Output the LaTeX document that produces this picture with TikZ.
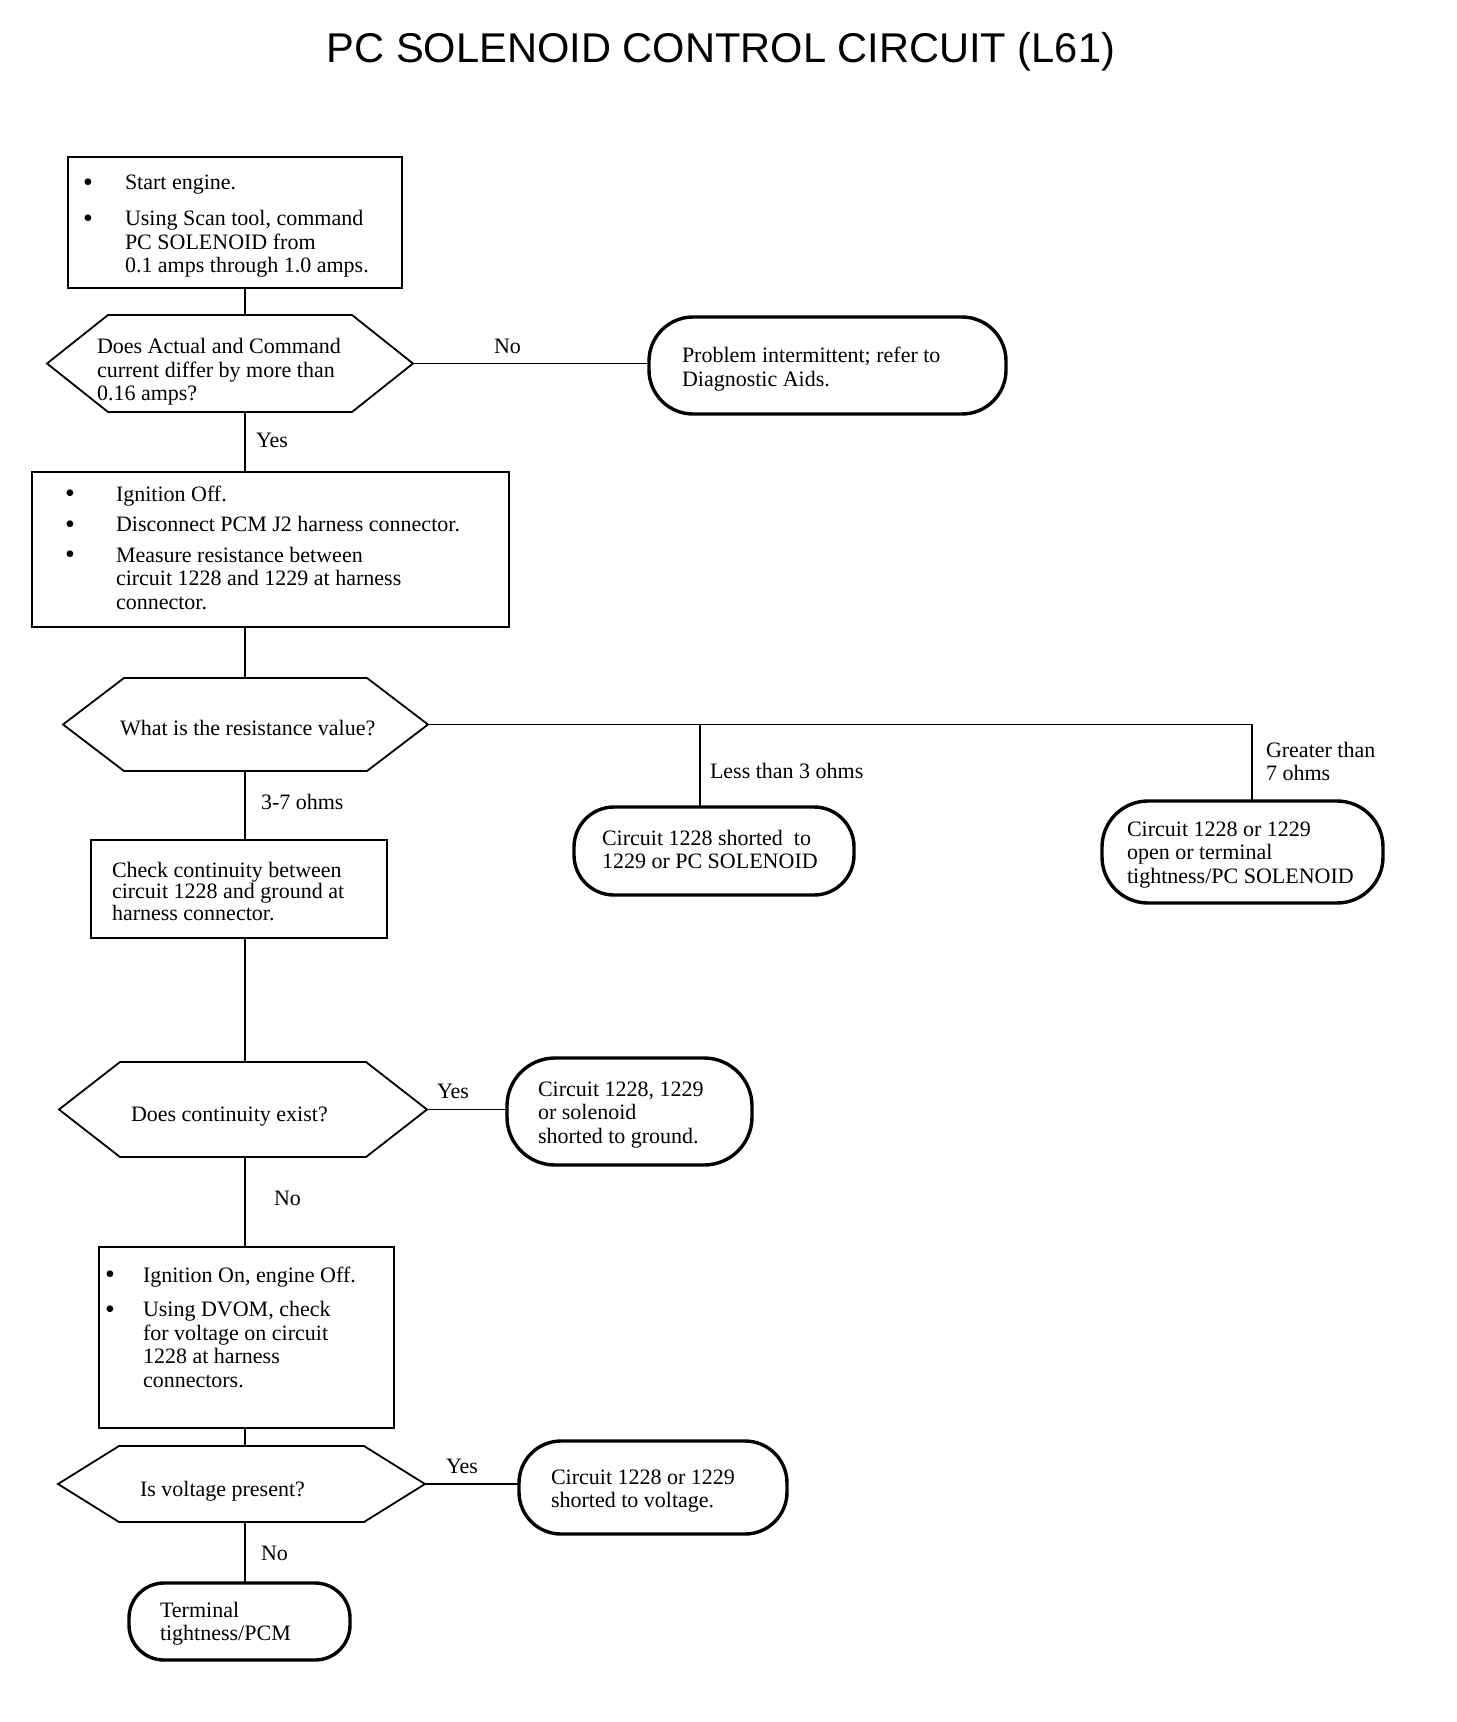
\documentclass[tikz,border=0pt]{standalone}
\usepackage{fontspec}
\setmainfont{Liberation Serif}
\newfontfamily\titlefont{Liberation Sans}
\usetikzlibrary{calc}
\newcommand\bodyfont{\fontsize{11}{11.75}\selectfont}
\newcommand\bul{\raisebox{-0.8pt}{\fontsize{14}{14}\selectfont\textbullet}}
\newcommand\hexof[1]{\draw[hexline] (#1.west) -- ([xshift=30.5pt]#1.north west) -- ([xshift=-30.5pt]#1.north east) -- (#1.east) -- ([xshift=-30.5pt]#1.south east) -- ([xshift=30.5pt]#1.south west) -- cycle;}
\begin{document}
\begin{tikzpicture}[x=0.5pt,y=-0.5pt,
  box/.style={draw, line width=1.2pt, rectangle, inner sep=0pt, outer sep=0pt},
  oval/.style={draw, line width=1.7pt, rectangle, inner sep=0pt, outer sep=0pt},
  hexbox/.style={rectangle, inner sep=0pt, outer sep=0pt},
  hexline/.style={line width=0.9pt, line join=miter},
  conn/.style={line width=0.75pt},
  txt/.style={inner sep=0pt, outer sep=0pt, anchor=base west, font=\bodyfont},
  titletxt/.style={inner sep=0pt, outer sep=0pt, anchor=base, font=\titlefont\fontsize{20.8}{24}\selectfont}]
\useasboundingbox (0,0) rectangle (1456,1722);
\fill[white] (0,0) rectangle (1456,1722);
\coordinate (trunk) at (245,0);

% title
\node[titletxt] (title) at (721,63) {PC SOLENOID CONTROL CIRCUIT (L61)};

% box 1
\node[box, minimum width=167pt, minimum height=65.5pt] (b1) at (235,222.5) {};
\node[txt] (b1t) at (83,190) {\begin{tabular}[t]{@{}p{21pt}@{}l@{}}\bul & Start engine.\\[6.25pt] \bul & Using Scan tool, command\\ & PC SOLENOID from\\ & 0.1 amps through 1.0 amps.\end{tabular}};

% hex 1
\node[hexbox, minimum width=183pt, minimum height=48.5pt] (h1) at (230,363.5) {};
\hexof{h1}
\node[txt] (h1t) at (97,354) {\begin{tabular}[t]{@{}l@{}}Does Actual and Command\\ current differ by more than\\ 0.16 amps?\end{tabular}};

% oval 1
\node[oval, rounded corners=22pt, minimum width=178.5pt, minimum height=48.5pt] (o1) at (827.5,365.5) {};
\node[txt] (o1t) at (682,363) {\begin{tabular}[t]{@{}l@{}}Problem intermittent; refer to\\ Diagnostic Aids.\end{tabular}};

% box 2
\node[box, minimum width=238.5pt, minimum height=77.5pt] (b2) at (270.5,549.5) {};
\node[txt] (b2t) at (65,501) {\begin{tabular}[t]{@{}p{25.5pt}@{}l@{}}\bul & Ignition Off.\\[3.5pt] \bul & Disconnect PCM J2 harness connector.\\[3.5pt] \bul & Measure resistance between\\ & circuit 1228 and 1229 at harness\\ & connector.\end{tabular}};

% hex 2
\node[hexbox, minimum width=182.5pt, minimum height=46.5pt] (h2) at (245.5,724.5) {};
\hexof{h2}
\node[txt] (h2t) at (120,735) {What is the resistance value?};

% branch coordinates
\coordinate (ltbranch) at (700,724.5);
\coordinate (gtcorner) at (1252,724.5);

% oval 2
\node[oval, rounded corners=20pt, minimum width=140pt, minimum height=44pt] (o2) at (714,851) {};
\node[txt] (o2t) at (602,845) {\begin{tabular}[t]{@{}l@{}}Circuit 1228 shorted~ to\\ 1229 or PC SOLENOID\end{tabular}};

% oval 3
\node[oval, rounded corners=23pt, minimum width=140.5pt, minimum height=51pt] (o3) at (1242.5,852) {};
\node[txt] (o3t) at (1127,836) {\begin{tabular}[t]{@{}l@{}}Circuit 1228 or 1229\\ open or terminal\\ tightness/PC SOLENOID\end{tabular}};

% box 3
\node[box, minimum width=148pt, minimum height=49pt] (b3) at (239,889) {};
\node[txt] (b3t) at (112,877) {\renewcommand\arraystretch{0.9}\begin{tabular}[t]{@{}l@{}}Check continuity between\\ circuit 1228 and ground at\\ harness connector.\end{tabular}};

% hex 3
\node[hexbox, minimum width=184pt, minimum height=47.5pt] (h3) at (243,1109.5) {};
\hexof{h3}
\node[txt] (h3t) at (131,1121) {Does continuity exist?};

% oval 4
\node[oval, rounded corners=24pt, minimum width=122.5pt, minimum height=53.5pt] (o4) at (629.5,1111.5) {};
\node[txt] (o4t) at (538,1096) {\begin{tabular}[t]{@{}l@{}}Circuit 1228, 1229\\ or solenoid\\ shorted to ground.\end{tabular}};

% box 4
\node[box, minimum width=147.5pt, minimum height=90.5pt] (b4) at (246.5,1337.5) {};
\node[txt] (b4t) at (105,1282) {\begin{tabular}[t]{@{}p{19pt}@{}l@{}}\bul & Ignition On, engine Off.\\[5.5pt] \bul & Using DVOM, check\\ & for voltage on circuit\\ & 1228 at harness\\ & connectors.\end{tabular}};

% hex 4
\node[hexbox, minimum width=183.5pt, minimum height=38pt] (h4) at (241.5,1484) {};
\hexof{h4}
\node[txt] (h4t) at (140,1496) {Is voltage present?};

% oval 5
\node[oval, rounded corners=21pt, minimum width=134pt, minimum height=46.5pt] (o5) at (653,1487.5) {};
\node[txt] (o5t) at (551,1484) {\begin{tabular}[t]{@{}l@{}}Circuit 1228 or 1229\\ shorted to voltage.\end{tabular}};

% oval 6
\node[oval, rounded corners=17.5pt, minimum width=110.5pt, minimum height=38.5pt] (o6) at (239.5,1621.5) {};
\node[txt] (o6t) at (160,1617) {\begin{tabular}[t]{@{}l@{}}Terminal\\ tightness/PCM\end{tabular}};

% connectors
\draw[conn] (b1.south -| trunk) -- (h1.north -| trunk);
\draw[conn] (h1.east) -- (h1.east -| o1.west);
\draw[conn] (h1.south -| trunk) -- (b2.north -| trunk);
\draw[conn] (b2.south -| trunk) -- (h2.north -| trunk);
\draw[conn] (h2.east) -- (gtcorner) -- (gtcorner |- o3.north);
\draw[conn] (ltbranch) -- (ltbranch |- o2.north);
\draw[conn] (h2.south -| trunk) -- (b3.north -| trunk);
\draw[conn] (b3.south -| trunk) -- (h3.north -| trunk);
\draw[conn] (h3.east) -- (h3.east -| o4.west);
\draw[conn] (h3.south -| trunk) -- (b4.north -| trunk);
\draw[conn] (b4.south -| trunk) -- (h4.north -| trunk);
\draw[conn] (h4.east) -- (h4.east -| o5.west);
\draw[conn] (h4.south -| trunk) -- (o6.north -| trunk);

% connector labels
\node[txt] (lno1) at (494,354) {No};
\node[txt] (lyes1) at (256,447) {Yes};
\node[txt] (lless) at (710,778) {Less than 3 ohms};
\node[txt] (lgreat) at (1266,757) {\begin{tabular}[t]{@{}l@{}}Greater than\\ 7 ohms\end{tabular}};
\node[txt] (lmid) at (261,809) {3-7 ohms};
\node[txt] (lyes2) at (437,1098) {Yes};
\node[txt] (lno2) at (274,1205) {No};
\node[txt] (lyes3) at (446,1473) {Yes};
\node[txt] (lno3) at (261,1560) {No};
\end{tikzpicture}
\end{document}
